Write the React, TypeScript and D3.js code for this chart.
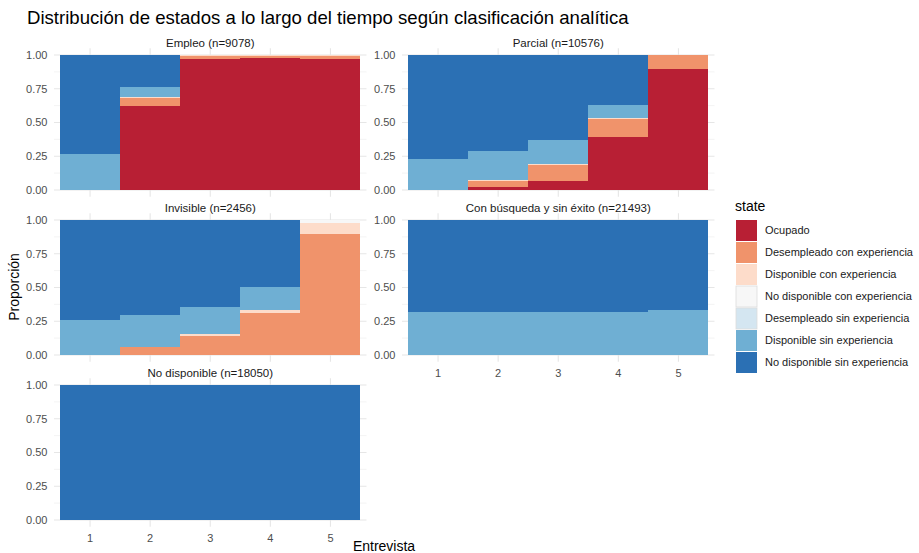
import React from "react";
import * as d3 from "d3";

const STATES = [
  "Ocupado",
  "Desempleado con experiencia",
  "Disponible con experiencia",
  "No disponible con experiencia",
  "Desempleado sin experiencia",
  "Disponible sin experiencia",
  "No disponible sin experiencia",
];
const COLORS = ["#b81f34", "#f0936b", "#fddcca", "#f7f7f7", "#d4e6f1", "#6fafd3", "#2b70b4"];
const INTERVIEWS = ["1", "2", "3", "4", "5"];
const Y_TICKS = [0, 0.25, 0.5, 0.75, 1];
const Y_MINOR = [0.125, 0.375, 0.625, 0.875];

// Shares by interview (rows) and state (columns, in STATES order)
const EMPLEO = [
  [0, 0, 0, 0, 0, 0.265, 0.735],
  [0.62, 0.065, 0.005, 0, 0, 0.075, 0.235],
  [0.972, 0.02, 0.008, 0, 0, 0, 0],
  [0.975, 0.018, 0.007, 0, 0, 0, 0],
  [0.968, 0.022, 0.01, 0, 0, 0, 0],
];
const PARCIAL = [
  [0, 0, 0, 0, 0, 0.23, 0.77],
  [0.02, 0.05, 0.006, 0, 0, 0.21, 0.714],
  [0.07, 0.113, 0.01, 0, 0, 0.177, 0.63],
  [0.395, 0.13, 0.01, 0, 0, 0.095, 0.37],
  [0.9, 0.1, 0, 0, 0, 0, 0],
];
const INVISIBLE = [
  [0, 0, 0, 0, 0, 0.258, 0.742],
  [0, 0.061, 0, 0, 0, 0.237, 0.702],
  [0, 0.14, 0.012, 0, 0, 0.2, 0.648],
  [0, 0.312, 0.024, 0, 0, 0.167, 0.497],
  [0, 0.895, 0.08, 0.025, 0, 0, 0],
];
const CON_BUSQUEDA = [
  [0, 0, 0, 0, 0, 0.316, 0.684],
  [0, 0, 0, 0, 0, 0.316, 0.684],
  [0, 0, 0, 0, 0, 0.322, 0.678],
  [0, 0, 0, 0, 0, 0.322, 0.678],
  [0, 0, 0, 0, 0, 0.335, 0.665],
];
const NO_DISPONIBLE = [
  [0, 0, 0, 0, 0, 0, 1],
  [0, 0, 0, 0, 0, 0, 1],
  [0, 0, 0, 0, 0, 0, 1],
  [0, 0, 0, 0, 0, 0, 1],
  [0, 0, 0, 0, 0, 0, 1],
];

const PANEL_TITLES = [
  "Empleo (n=9078)",
  "Parcial (n=10576)",
  "Invisible (n=2456)",
  "Con búsqueda y sin éxito (n=21493)",
  "No disponible (n=18050)",
];
const PANEL_VALUES = [EMPLEO, PARCIAL, INVISIBLE, CON_BUSQUEDA, NO_DISPONIBLE];

const W = 919;
const H = 553;
const FONT = "'Liberation Sans', Arial, Helvetica, sans-serif";
const COL_X = [54, 402];
const ROW_Y = [48.25, 213.25, 378.25];
const PANEL_W = 312.5;
const PANEL_H = 148.5;

function Panel({ idx }: { idx: number }) {
  const col = idx % 2;
  const row = Math.floor(idx / 2);
  const x0 = COL_X[col];
  const y0 = ROW_Y[row];
  const values = PANEL_VALUES[idx];
  const showX = idx + 2 >= PANEL_TITLES.length;

  const x = d3.scaleLinear().domain([0.4, INTERVIEWS.length + 0.6]).range([x0, x0 + PANEL_W]);
  const y = d3.scaleLinear().domain([-0.05, 1.05]).range([y0 + PANEL_H, y0]);

  const rows = values.map((v, i) => {
    const o: Record<string, number | string> = { t: INTERVIEWS[i] };
    STATES.forEach((s, j) => (o[s] = v[j]));
    return o;
  });
  const stack = d3.stack<Record<string, number | string>>().keys(STATES).offset(d3.stackOffsetExpand);
  const series = stack(rows as any);

  return (
    <g>
      {Y_MINOR.map((t) => (
        <line key={"mn" + t} x1={x0} x2={x0 + PANEL_W} y1={y(t)} y2={y(t)} stroke="#ececec" strokeWidth={0.6} />
      ))}
      {Y_TICKS.map((t) => (
        <line key={"mj" + t} x1={x0} x2={x0 + PANEL_W} y1={y(t)} y2={y(t)} stroke="#e6e6e6" strokeWidth={1.1} />
      ))}
      {INTERVIEWS.map((_, i) => (
        <line key={"vx" + i} x1={x(i + 1)} x2={x(i + 1)} y1={y0} y2={y0 + PANEL_H} stroke="#e6e6e6" strokeWidth={1.1} />
      ))}
      <g shapeRendering="crispEdges">
        {series.map((s, si) =>
          s.map((d, i) => {
            const top = y(d[1]);
            const bot = y(d[0]);
            if (bot - top <= 0.01) return null;
            return (
              <rect
                key={si + "-" + i}
                x={x(i + 0.5)}
                width={x(i + 1.5) - x(i + 0.5)}
                y={top}
                height={bot - top}
                fill={COLORS[si]}
              />
            );
          })
        )}
      </g>
      <text x={x0 + PANEL_W / 2} y={y0 - 1.5} textAnchor="middle" fontSize={11.5} fill="#1a1a1a" fontFamily={FONT}>
        {PANEL_TITLES[idx]}
      </text>
      {Y_TICKS.map((t) => (
        <text key={"yl" + t} x={x0 - 6.5} y={y(t)} dy="0.35em" textAnchor="end" fontSize={11} fill="#4d4d4d" fontFamily={FONT}>
          {d3.format(".2f")(t)}
        </text>
      ))}
      {showX &&
        INTERVIEWS.map((lab, i) => (
          <text key={"xl" + i} x={x(i + 1)} y={y0 + PANEL_H + 15} textAnchor="middle" fontSize={11} fill="#4d4d4d" fontFamily={FONT}>
            {lab}
          </text>
        ))}
    </g>
  );
}

export default function App() {
  const legendX = 736;
  const legendY = 220;
  const keyStep = 22;
  return (
    <svg width={W} height={H} style={{ display: "block", position: "absolute", left: 0, top: 0, background: "#fff" }}>
      <rect width={W} height={H} fill="#fff" />
      <text x={27} y={24} fontSize={18.6} fill="#000" fontFamily={FONT}>
        Distribución de estados a lo largo del tiempo según clasificación analítica
      </text>
      {PANEL_TITLES.map((_, i) => (
        <Panel key={i} idx={i} />
      ))}
      <text x={384} y={551} textAnchor="middle" fontSize={14} fill="#000" fontFamily={FONT}>
        Entrevista
      </text>
      <text transform="translate(19,287) rotate(-90)" textAnchor="middle" fontSize={14} fill="#000" fontFamily={FONT}>
        Proporción
      </text>
      <text x={735} y={211} fontSize={14} fill="#000" fontFamily={FONT}>
        state
      </text>
      {STATES.map((s, i) => (
        <g key={s} transform={`translate(${legendX},${legendY + i * keyStep})`}>
          <rect x={0} y={0} width={21} height={21} fill={COLORS[i]} stroke={i === 3 || i === 4 ? "#dcdcdc" : "none"} strokeWidth={0.8} />
          <text x={29} y={10.5} dy="0.35em" fontSize={11} fill="#1a1a1a" fontFamily={FONT}>
            {s}
          </text>
        </g>
      ))}
    </svg>
  );
}
